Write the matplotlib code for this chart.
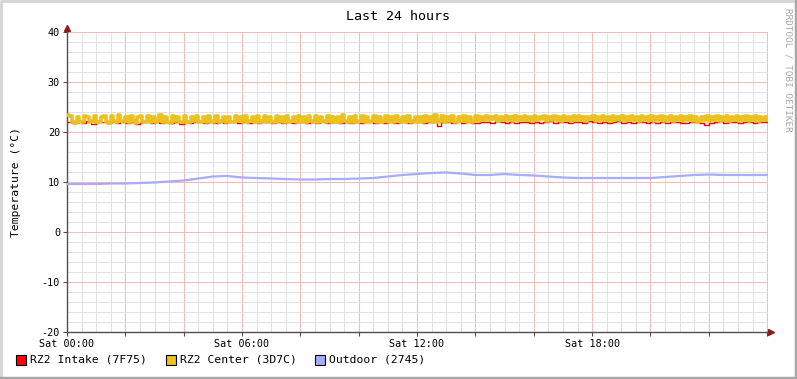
import numpy as np
import matplotlib
matplotlib.use("Agg")
import matplotlib.pyplot as plt
from matplotlib.patches import Rectangle
from matplotlib.lines import Line2D
from matplotlib.ticker import MultipleLocator, FuncFormatter

plt.rcParams["axes.unicode_minus"] = False

# ---- data (hours since Sat 00:00) ----
t_center = np.arange(289) / 12.0       # 5 minute steps
t_intake = np.arange(145) / 6.0        # 10 minute steps
t_outdoor = np.arange(49) / 2.0        # 30 minute steps

center = [
    23.5, 23.3, 22.0, 21.9, 23.1, 22.1, 22.0, 23.2, 23.0, 22.0, 22.2, 23.3,
    22.1, 22.0, 23.0, 23.2, 22.1, 21.9, 23.3, 22.3, 22.0, 23.4, 22.2, 22.1,
    23.1, 22.0, 23.3, 22.2, 21.9, 23.0, 23.2, 22.1, 22.0, 23.3, 22.1, 23.1,
    22.0, 22.2, 23.4, 22.0, 23.0, 22.1, 21.9, 23.3, 22.3, 23.1, 22.0, 22.1,
    23.2, 22.1, 22.0, 23.0, 22.2, 23.3, 22.0, 22.1, 23.1, 22.0, 23.2, 22.2,
    22.0, 23.3, 22.1, 22.3, 23.1, 22.0, 23.0, 22.1, 22.0, 23.2, 22.2, 23.0,
    22.1, 23.3, 22.0, 22.2, 23.0, 22.1, 23.2, 22.0, 22.3, 23.3, 22.1, 23.1,
    22.0, 22.1, 23.2, 22.2, 23.0, 22.0, 23.3, 22.1, 22.2, 23.1, 22.0, 23.2,
    22.1, 23.0, 22.0, 23.3, 22.2, 22.1, 23.2, 22.0, 23.0, 22.3, 22.1, 23.3,
    22.0, 23.1, 22.1, 23.0, 22.0, 23.4, 22.2, 22.1, 23.1, 22.0, 23.3, 22.1,
    22.2, 23.2, 22.0, 23.0, 22.1, 22.3, 23.3, 22.0, 23.1, 22.1, 22.2, 23.2,
    22.0, 23.0, 22.1, 23.3, 22.2, 22.0, 23.1, 22.1, 23.2, 22.0, 22.3, 23.0,
    22.1, 23.1, 22.0, 23.3, 22.2, 23.0, 22.1, 23.5, 22.0, 22.3, 23.2, 22.1,
    23.0, 22.2, 23.2, 22.0, 22.1, 23.1, 22.2, 23.3, 22.1, 23.0, 22.0, 22.3,
    23.2, 22.3, 23.0, 22.5, 23.3, 22.4, 23.1, 22.6, 23.2, 22.3, 23.0, 22.5,
    23.3, 22.4, 23.0, 22.3, 23.2, 22.5, 23.1, 22.4, 23.3, 22.5, 23.0, 22.3,
    23.2, 22.4, 23.1, 22.6, 23.3, 22.3, 23.0, 22.5, 23.2, 22.4, 23.1, 22.3,
    23.3, 22.5, 23.0, 22.3, 23.2, 22.4, 23.3, 22.5, 23.0, 22.3, 23.1, 22.6,
    23.2, 22.3, 23.1, 22.4, 23.3, 22.5, 23.0, 22.3, 23.2, 22.4, 23.1, 22.5,
    23.3, 22.3, 23.0, 22.5, 23.2, 22.4, 23.1, 22.3, 23.3, 22.4, 23.0, 22.5,
    23.2, 22.3, 23.1, 22.4, 23.3, 22.2, 23.0, 22.5, 23.2, 22.3, 23.1, 22.4,
    23.3, 22.3, 23.0, 22.5, 23.2, 22.3, 23.1, 22.1, 22.3, 23.0, 22.4, 23.2,
    22.3, 23.1, 22.4, 23.3, 22.3, 23.0, 22.5, 23.2, 22.2, 23.1, 22.4, 23.2,
    22.3, 23.0, 22.5, 23.3, 22.3, 23.1, 22.4, 23.2, 22.3, 23.0, 22.5, 23.1,
    22.4,
]

intake = [
    22.0, 21.8, 22.1, 21.9, 22.2, 21.7, 22.0, 22.1, 21.9, 22.0, 21.8, 22.2,
    21.9, 22.1, 21.7, 22.0, 22.2, 21.9, 22.0, 21.8, 22.1, 21.9, 22.0, 21.7,
    22.1, 21.9, 22.0, 22.2, 21.8, 22.0, 21.9, 22.1, 21.8, 22.0, 22.1, 21.9,
    22.0, 21.8, 22.1, 21.9, 22.0, 22.2, 21.8, 22.0, 21.9, 22.1, 21.8, 22.0,
    22.1, 21.9, 22.0, 21.8, 22.2, 21.9, 22.0, 22.1, 21.8, 22.0, 21.9, 22.1,
    21.9, 22.0, 22.2, 21.8, 22.0, 21.9, 22.1, 21.8, 22.0, 22.1, 21.9, 22.0,
    22.0, 21.9, 22.1, 22.0, 21.3, 22.1, 22.0, 21.8, 22.2, 21.9, 22.0, 21.8,
    21.9, 22.1, 22.0, 21.8, 22.2, 22.0, 21.9, 22.1, 21.8, 22.0, 22.1, 21.9,
    22.1, 21.9, 22.0, 22.2, 21.9, 22.1, 22.0, 21.8, 22.1, 22.0, 21.9, 22.2,
    22.0, 21.8, 22.1, 21.9, 22.0, 22.2, 21.9, 22.0, 21.8, 22.1, 22.0, 21.9,
    22.1, 21.9, 22.0, 21.8, 22.1, 22.0, 21.8, 21.9, 22.1, 22.0, 21.8, 21.4,
    21.9, 22.0, 22.2, 21.9, 22.1, 22.0, 21.8, 22.0, 22.1, 21.9, 22.0, 22.1,
    22.0,
]

outdoor = [
    9.6, 9.6, 9.6, 9.7, 9.7, 9.8, 9.9, 10.1, 10.3, 10.7, 11.1, 11.2,
    10.9, 10.8, 10.7, 10.6, 10.5, 10.5, 10.6, 10.6, 10.7, 10.8, 11.1, 11.4,
    11.6, 11.8, 11.9, 11.7, 11.4, 11.4, 11.6, 11.4, 11.3, 11.1, 10.9, 10.8,
    10.8, 10.8, 10.8, 10.8, 10.8, 11.0, 11.2, 11.4, 11.5, 11.4, 11.4, 11.4,
    11.4,
]

labels = ["RZ2 Intake (7F75)", "RZ2 Center (3D7C)", "Outdoor (2745)"]
colors = ["#ff0000", "#eac11f", "#aaaaff"]
day_ticks = {0: "Sat 00:00", 6: "Sat 06:00", 12: "Sat 12:00", 18: "Sat 18:00"}

mono = "DejaVu Sans Mono"
W, H = 797, 379
fig = plt.figure(figsize=(W / 100, H / 100), dpi=100)
fig.patch.set_facecolor("white")

# outer frame: light top/left, darker bottom/right
fig.add_artist(Line2D([0.5 / W, 0.5 / W, 1 - 0.5 / W], [0, 1 - 0.5 / H, 1 - 0.5 / H],
                      transform=fig.transFigure, color="#d4d4d4", lw=2))
fig.add_artist(Line2D([0, 1 - 1 / W, 1 - 1 / W], [1.5 / H, 1.5 / H, 1],
                      transform=fig.transFigure, color="#a8a8a8", lw=2.5))

ax = fig.add_axes([67 / W, 1 - 332 / H, 701 / W, 300 / H])
ax.set_facecolor("white")

ax.plot(t_intake, intake, color=colors[0], lw=1.0, drawstyle="steps-post", zorder=3)
ax.plot(t_center, center, color=colors[1], lw=2.6, drawstyle="steps-post", zorder=4)
ax.plot(t_outdoor, outdoor, color=colors[2], lw=1.6, zorder=5)

ax.set_xlim(0, 24.03)
ax.set_ylim(-20, 40)

ax.xaxis.set_major_locator(MultipleLocator(2))
ax.xaxis.set_minor_locator(MultipleLocator(0.5))
ax.xaxis.set_major_formatter(FuncFormatter(lambda v, p: day_ticks.get(int(round(v)), "")
                                           if abs(v - round(v)) < 1e-6 else ""))
ax.yaxis.set_major_locator(MultipleLocator(10))
ax.yaxis.set_minor_locator(MultipleLocator(2))

ax.grid(which="minor", color="#e2e2e2", lw=0.75, zorder=0)
ax.grid(which="major", color="#f2bcbc", lw=0.75, zorder=1)
ax.set_axisbelow(True)

for s in ["top", "right"]:
    ax.spines[s].set_visible(False)
for s in ["left", "bottom"]:
    ax.spines[s].set_color("#505050")
    ax.spines[s].set_linewidth(1.0)

ax.tick_params(which="major", direction="out", length=3, width=0.8, color="#505050",
               labelsize=7.3, pad=2)
ax.tick_params(which="minor", length=0)
for lab in ax.get_xticklabels() + ax.get_yticklabels():
    lab.set_family(mono)

# axis arrows
ax.plot([0], [40.9], marker="^", ms=4, color="#8b1a1a", clip_on=False, zorder=6)
ax.plot([24.12], [-20], marker=">", ms=4, color="#8b1a1a", clip_on=False, zorder=6)

ax.set_ylabel("Temperature (°C)", family=mono, fontsize=8.2)
ax.yaxis.set_label_coords(-46 / 701, 0.5)

fig.text(398 / W, 1 - 16 / H, "Last 24 hours", family=mono, fontsize=9.6,
         ha="center", va="center")
fig.text(788 / W, 1 - 8 / H, "RRDTOOL / TOBI OETIKER", family=mono, fontsize=6.7,
         color="#a8a8a8", rotation=270, ha="center", va="top")

# legend
lx = [16, 166, 315]
for x0, lab, c in zip(lx, labels, colors):
    fig.patches.append(Rectangle((x0 / W, 1 - 365 / H), 10 / W, 10 / H,
                                 transform=fig.transFigure, facecolor=c,
                                 edgecolor="black", lw=0.8))
    fig.text((x0 + 14) / W, 1 - 360 / H, lab, family=mono, fontsize=8.2,
             ha="left", va="center")

fig.savefig("out.png", dpi=100)
